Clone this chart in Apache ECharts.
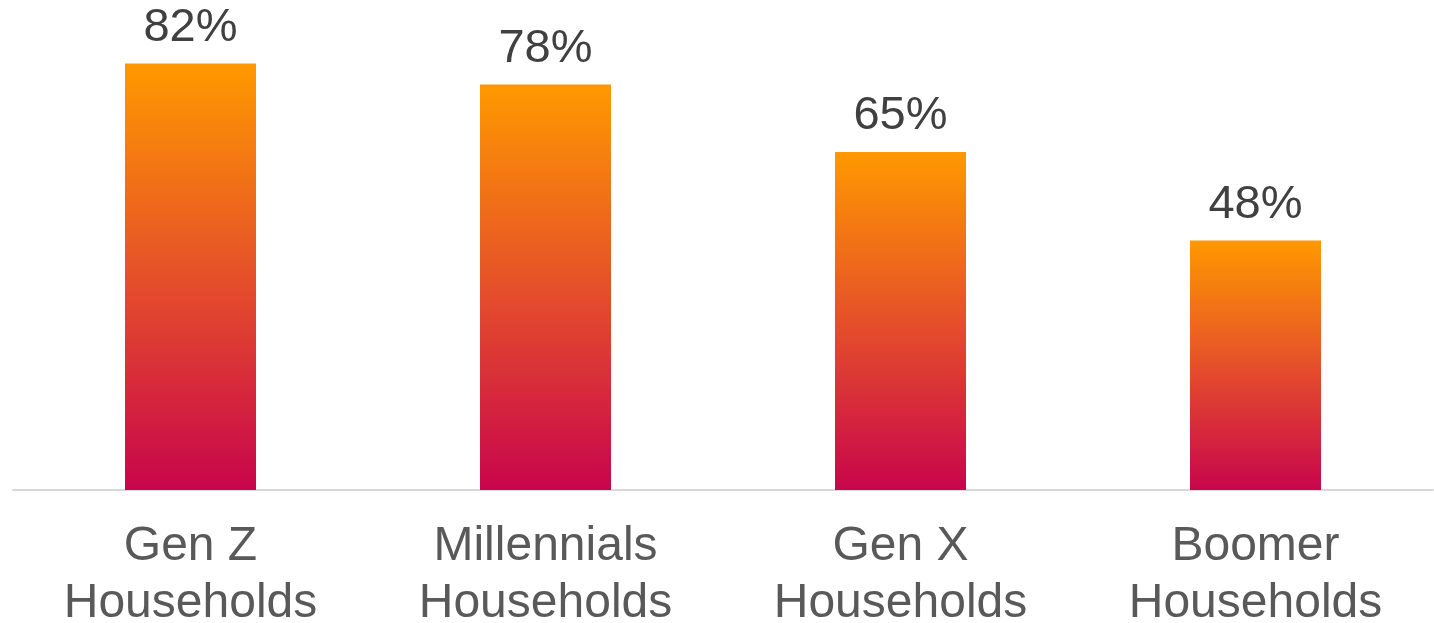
<!DOCTYPE html>
<html><head><meta charset="utf-8">
<script src="https://cdn.jsdelivr.net/npm/echarts@6/dist/echarts.min.js"></script>
<style>html,body{margin:0;padding:0;background:#fff}#c{width:1434px;height:623px}</style>
</head><body><div id="c"></div>
<script>
const categories = ["Gen Z\nHouseholds", "Millennials\nHouseholds", "Gen X\nHouseholds", "Boomer\nHouseholds"];
const values = [82, 78, 65, 48];

const chart = echarts.init(document.getElementById('c'), null, {renderer: 'canvas'});
chart.setOption({
  animation: false,
  grid: {left: 13, right: 1, top: 22, bottom: 133, containLabel: false, outerBoundsMode: 'none'},
  xAxis: {
    type: 'category', data: categories,
    axisLine: {lineStyle: {color: '#d9d9d9', width: 2}},
    axisTick: {show: false},
    axisLabel: {color: '#595959', fontSize: 48, fontFamily: 'Liberation Sans, Arial, sans-serif', lineHeight: 57, margin: 28, interval: 0}
  },
  yAxis: {type: 'value', min: 0, max: 90, show: false, splitLine: {show: false}},
  series: [{
    type: 'bar', data: values, barWidth: 131,
    itemStyle: {color: new echarts.graphic.LinearGradient(0, 0, 0, 1, [
      {offset: 0, color: '#FF9900'},
      {offset: 0.5, color: '#E5502A'},
      {offset: 1, color: '#C8054C'}
    ])},
    label: {show: true, position: 'top', distance: 12, formatter: '{c}%', color: '#404040', fontSize: 47, fontFamily: 'Liberation Sans, Arial, sans-serif'}
  }]
});
</script></body></html>
